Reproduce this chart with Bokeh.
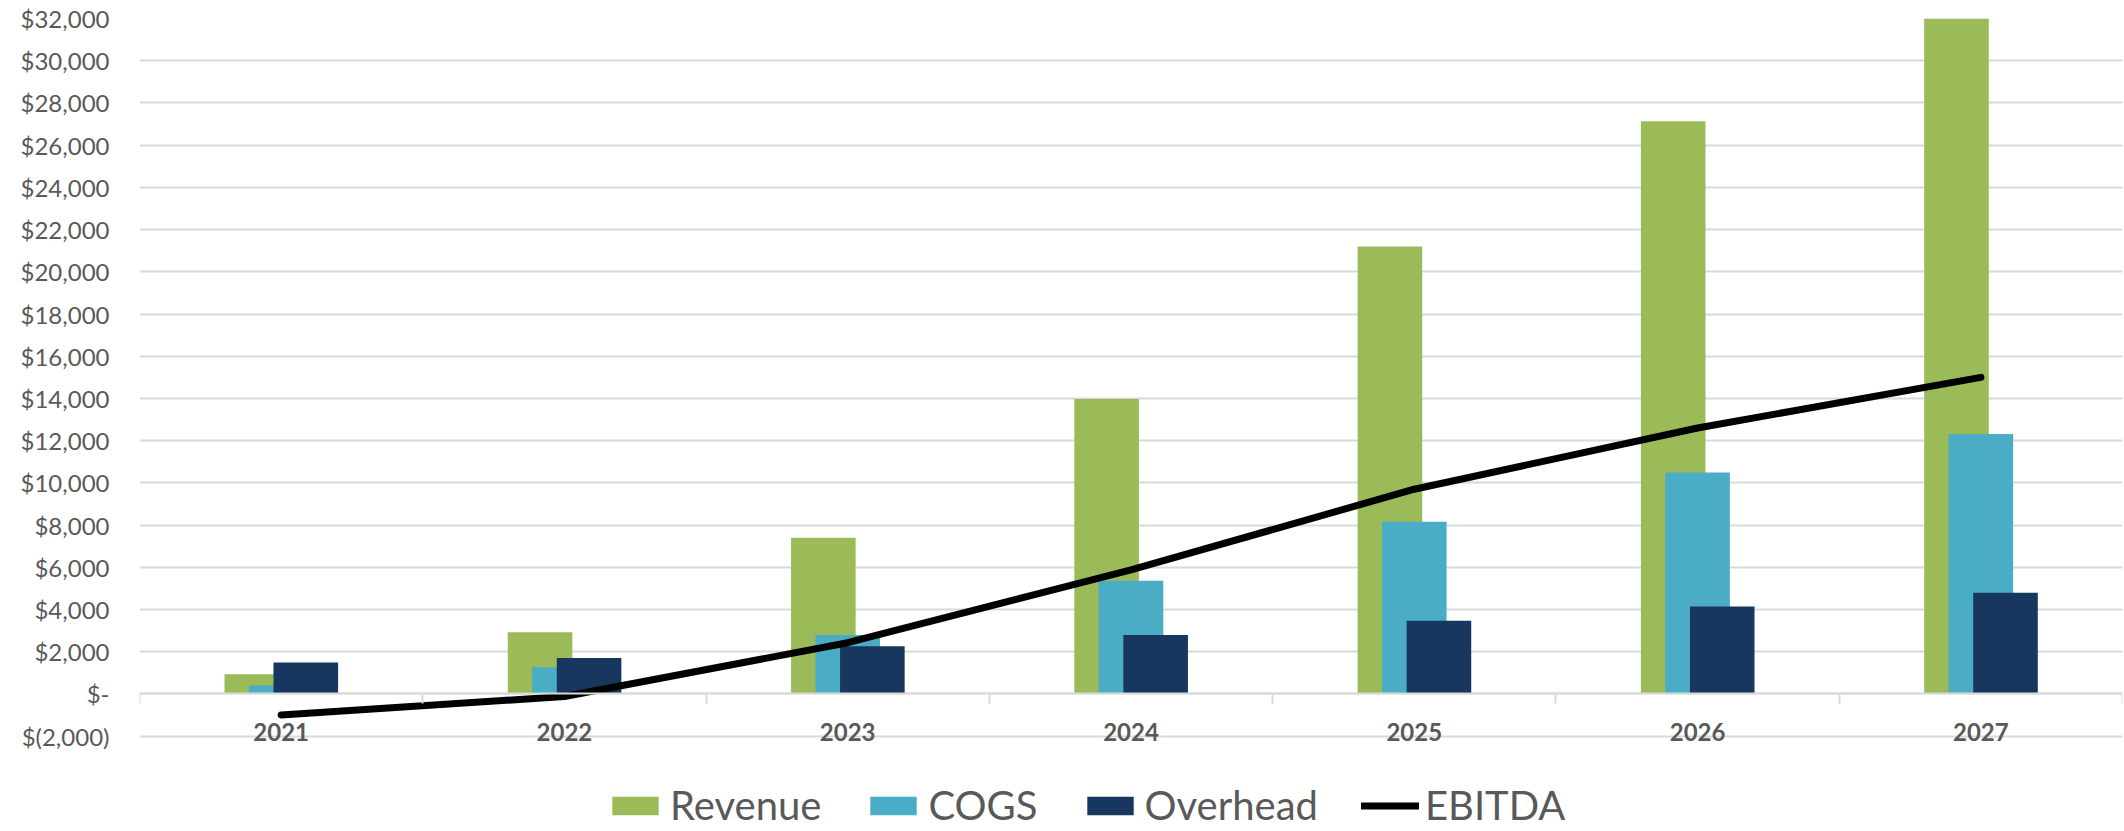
import numpy as np
from bokeh.plotting import figure
from bokeh.models import (Range1d, LinearAxis, FixedTicker, Legend,
                          LegendItem, ColumnDataSource, CustomJSTickFormatter)
from bokeh.transform import dodge
from bokeh.embed import file_html
from bokeh.resources import INLINE

years = ["2021", "2022", "2023", "2024", "2025", "2026", "2027"]
revenue = [930, 2930, 7400, 13980, 21200, 27130, 32000]
cogs = [400, 1270, 2800, 5360, 8160, 10490, 12320]
overhead = [1490, 1700, 2260, 2800, 3470, 4140, 4800]
ebitda = [-990, -120, 2430, 5880, 9700, 12600, 15000]

y_ticks = [-2000, 0, 2000, 4000, 6000, 8000, 10000, 12000, 14000, 16000,
           18000, 20000, 22000, 24000, 26000, 28000, 30000, 32000]
y_tick_labels = ["$(2,000)", "$-", "$2,000", "$4,000", "$6,000", "$8,000",
                 "$10,000", "$12,000", "$14,000", "$16,000", "$18,000",
                 "$20,000", "$22,000", "$24,000", "$26,000", "$28,000",
                 "$30,000", "$32,000"]

GREEN = "#9BBB59"
TEAL = "#4BACC6"
NAVY = "#17375E"
GRID = "#D9D9D9"
TXT = "#595959"
FONT = "Lato"

n = len(years)
xpos = np.arange(n) + 0.5          # category centres on a numeric scale
src = ColumnDataSource(dict(x=xpos, year=years, revenue=revenue, cogs=cogs,
                            overhead=overhead, ebitda=ebitda))

p = figure(x_range=Range1d(0, n), y_range=Range1d(-6514, 32000),
           width=2124, height=831, output_backend="svg", toolbar_location=None,
           min_border_left=139, min_border_right=2, min_border_top=18,
           min_border_bottom=0, x_axis_location=None)
p.outline_line_color = None
p.background_fill_color = "white"
p.border_fill_color = "white"

# grid
p.xgrid.visible = False
p.ygrid.ticker = FixedTicker(ticks=y_ticks)
p.ygrid.grid_line_color = GRID
p.ygrid.grid_line_width = 2

# y axis
yax = p.yaxis[0]
yax.ticker = FixedTicker(ticks=y_ticks)
yax.major_label_overrides = dict(zip(y_ticks, y_tick_labels))
yax.axis_line_color = None
yax.major_tick_line_color = None
yax.minor_tick_line_color = None
yax.major_label_standoff = 24
yax.major_label_text_font = FONT
yax.major_label_text_font_size = "24px"
yax.major_label_text_color = TXT

# category label axis at zero
xax = LinearAxis(ticker=FixedTicker(ticks=list(xpos)),
                 major_label_overrides={float(v): y for v, y in zip(xpos, years)},
                 fixed_location=0)
xax.axis_line_color = GRID
xax.axis_line_width = 2
xax.major_tick_line_color = None
xax.minor_tick_line_color = None
xax.major_tick_out = 0
xax.major_tick_in = 0
xax.major_label_standoff = 29
xax.major_label_text_font = FONT
xax.major_label_text_font_style = "bold"
xax.major_label_text_font_size = "24px"
xax.major_label_text_color = TXT
p.add_layout(xax, "below")

# boundary tick marks
bax = LinearAxis(ticker=FixedTicker(ticks=list(range(n + 1))),
                 fixed_location=0, formatter=CustomJSTickFormatter(code="return ''"))
bax.axis_line_color = None
bax.major_tick_in = 0
bax.major_tick_out = 10
bax.major_tick_line_color = GRID
bax.major_tick_line_width = 2
bax.minor_tick_line_color = None
p.add_layout(bax, "below")

W = 0.228
r1 = p.vbar(x=dodge("x", -0.086), top="revenue", width=W,
            source=src, fill_color=GREEN, line_color=None)
r2 = p.vbar(x=dodge("x", 0.0), top="cogs", width=W,
            source=src, fill_color=TEAL, line_color=None)
r3 = p.vbar(x=dodge("x", 0.087), top="overhead", width=W,
            source=src, fill_color=NAVY, line_color=None)
r4 = p.line(x="x", y="ebitda", source=src, line_color="black", line_width=7,
            line_cap="round", line_join="round")

legend = Legend(items=[LegendItem(label="Revenue", renderers=[r1]),
                       LegendItem(label="COGS", renderers=[r2]),
                       LegendItem(label="Overhead", renderers=[r3]),
                       LegendItem(label="EBITDA", renderers=[r4])],
                location=(467, 2), orientation="horizontal",
                glyph_width=58, glyph_height=23, label_standoff=6, spacing=43,
                padding=0, margin=0, border_line_color=None,
                background_fill_alpha=0, label_text_font=FONT,
                label_text_font_size="40px", label_text_color=TXT)
p.add_layout(legend)

open("out.html", "w").write(file_html(p, INLINE))
